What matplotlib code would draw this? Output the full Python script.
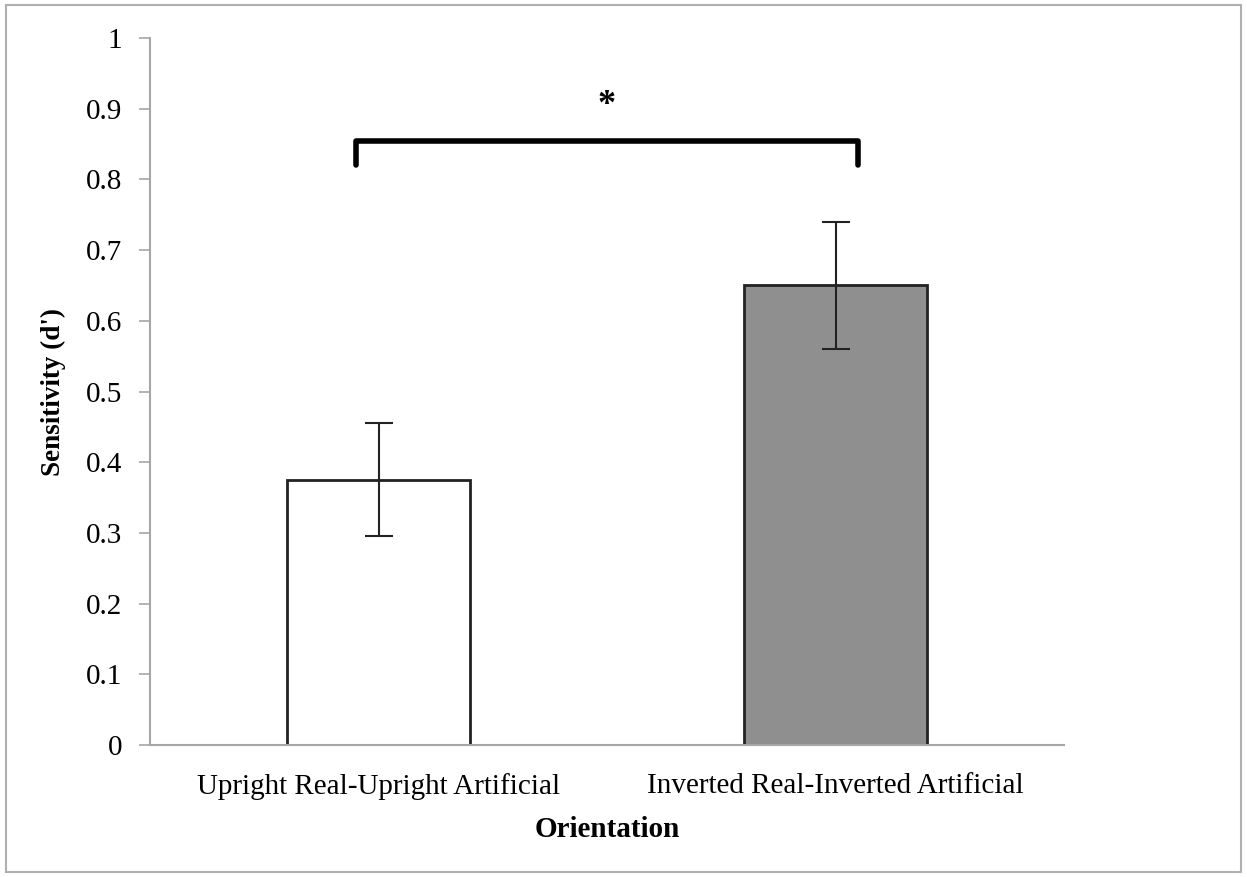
import matplotlib
matplotlib.use('Agg')
import matplotlib.pyplot as plt
import numpy as np
from matplotlib.patches import Rectangle

plt.rcParams['font.family'] = ['Liberation Serif', 'DejaVu Serif']

# data
categories = ['Upright Real-Upright Artificial', 'Inverted Real-Inverted Artificial']
sensitivity = [0.375, 0.65]
errors = [0.08, 0.09]
bar_colors = ['white', '#8f8f8f']
yticks = [0, 0.1, 0.2, 0.3, 0.4, 0.5, 0.6, 0.7, 0.8, 0.9, 1]
ytick_labels = ['0', '0.1', '0.2', '0.3', '0.4', '0.5', '0.6', '0.7', '0.8', '0.9', '1']
bracket_y = 0.855
bracket_drop = 0.035
star_y = 0.905

axis_grey = '#a6a6a6'

fig = plt.figure(figsize=(12.47, 8.77), dpi=100)
ax = fig.add_axes([150/1247, 1-745/877, (1064-150)/1247, (745-38)/877])

x = np.arange(len(categories))
ax.bar(x, sensitivity, width=0.4, color=bar_colors, edgecolor='#222222', lw=2, zorder=2)
ax.errorbar(x, sensitivity, yerr=errors, fmt='none', ecolor='#222222', elinewidth=1.5,
            capsize=10, capthick=1.5, zorder=3)

ax.set_xlim(-0.5, 1.5)
ax.set_ylim(0, 1)
ax.set_yticks(yticks)
ax.set_yticklabels(ytick_labels, fontsize=21)
ax.set_xticks(x)
ax.set_xticklabels(categories, fontsize=21)
ax.tick_params(axis='x', length=0, pad=20)
ax.tick_params(axis='y', length=8, width=1.2, color=axis_grey, pad=12)

for s in ['top', 'right']:
    ax.spines[s].set_visible(False)
for s in ['left', 'bottom']:
    ax.spines[s].set_color(axis_grey)
    ax.spines[s].set_linewidth(1.5)

ax.set_ylabel("Sensitivity (d')", fontsize=19.5, fontweight='bold', labelpad=14)
ax.set_xlabel('Orientation', fontsize=21, fontweight='bold', labelpad=12)

# significance bracket
bx0, bx1 = -0.05, 1.05
ax.plot([bx0, bx0, bx1, bx1], [bracket_y - bracket_drop, bracket_y, bracket_y, bracket_y - bracket_drop],
        color='black', lw=4, solid_joinstyle='round', solid_capstyle='round', zorder=4, clip_on=False)
ax.text(0.5, star_y, '*', ha='center', va='center', fontsize=26, fontweight='bold')

# outer border
fig.patches.append(Rectangle((6/1247, 5/877), 1235/1247, 867/877, transform=fig.transFigure,
                             fill=False, edgecolor='#b0b0b0', lw=1.5))

fig.savefig('out.png', dpi=100)
